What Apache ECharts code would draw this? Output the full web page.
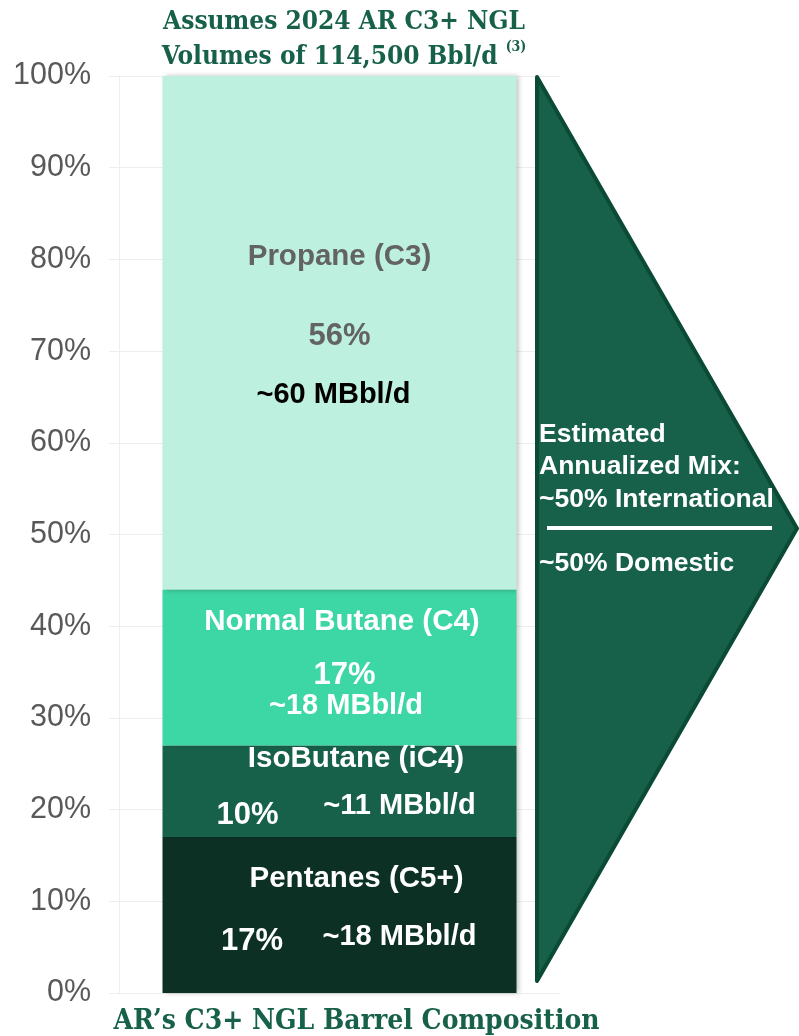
<!DOCTYPE html>
<html><head><meta charset="utf-8">
<script src="https://cdn.jsdelivr.net/npm/echarts@6/dist/echarts.min.js"></script>
<style>html,body{margin:0;padding:0;background:#fff}#c{width:799px;height:1036px}</style>
</head><body><div id="c"></div>
<script>
// ---- data ----
const categories = ["AR\u2019s C3+ NGL Barrel Composition"];
const segmentNames = ["Pentanes (C5+)", "IsoButane (iC4)", "Normal Butane (C4)", "Propane (C3)"];
const segmentShares = [17, 10, 17, 56];           // % of barrel (stacked)
const shareLabels = ["17%", "10%", "17%", "56%"];
const volumeLabels = ["~18 MBbl/d", "~11 MBbl/d", "~18 MBbl/d", "~60 MBbl/d"];
const yTicks = [0, 10, 20, 30, 40, 50, 60, 70, 80, 90, 100];
const titleLines = ["Assumes 2024 AR C3+ NGL", "Volumes of 114,500 Bbl/d"];
const titleNote = "(3)";
const mixLines = ["Estimated", "Annualized Mix:", "~50% International", "~50% Domestic"];

// ---- styles / layout (not data) ----
const segColors = ["#0d3024", "#17604a", "#3dd6a5", "#bdf0df"];
const green = "#17604a";
const SANS = "Liberation Sans, Arial, sans-serif";
const SERIF = "DejaVu Serif Condensed, DejaVu Serif, serif";
const TEXT_DY = 2.5;
// label offsets relative to [bar centre x, segment centre y] : [dx, dy]
const labelLayout = [
  { name: [17, -39], share: [-87.5, 24], vol: [60, 19], nameColor: "#fff", shareColor: "#fff", volColor: "#fff" },
  { name: [16.5, -34.5], share: [-92, 21.5], vol: [60, 12.5], nameColor: "#fff", shareColor: "#fff", volColor: "#fff" },
  { name: [2.5, -48], share: [5, 5.5], vol: [6.5, 36.5], nameColor: "#fff", shareColor: "#fff", volColor: "#fff" },
  { name: [0, -78.5], share: [0, 1], vol: [-6, 60], nameColor: "#636363", shareColor: "#636363", volColor: "#000" }
];

const chart = echarts.init(document.getElementById('c'), null, { renderer: 'canvas' });

const series = segmentNames.map((n, i) => ({
  name: n, type: 'bar', stack: 'ngl', barWidth: 354,
  data: [segmentShares[i]],
  itemStyle: { color: segColors[i], shadowBlur: 5, shadowOffsetX: 2, shadowColor: 'rgba(0,0,0,0.25)' },
  emphasis: { disabled: true }, animation: false
}));

const option = {
  animation: false,
  grid: { left: 119, right: 239, top: 76, bottom: 42 },
  title: {
    text: '{t|' + titleLines[0] + '}\n{t|' + titleLines[1] + ' }{s|' + titleNote + '}',
    left: 339, top: 0, textAlign: 'center',
    textStyle: { rich: {
      t: { fontFamily: SERIF, fontWeight: 'bold', fontSize: 26, color: green, lineHeight: 35 },
      s: { fontFamily: SERIF, fontWeight: 'bold', fontSize: 14, color: green, verticalAlign: 'top', lineHeight: 35, padding: [0, 0, 12, 0] }
    } }
  },
  xAxis: {
    type: 'category', data: categories,
    axisLine: { show: true, lineStyle: { color: '#eeeeee', width: 1 } },
    axisTick: { show: false },
    axisLabel: { interval: 0, margin: 15, fontFamily: SERIF, fontWeight: 'bold', fontSize: 28, color: green, padding: [0, 0, 0, 34] }
  },
  yAxis: {
    type: 'value', min: 0, max: 100, interval: 10,
    axisLine: { show: true, lineStyle: { color: '#eeeeee' } },
    axisTick: { show: true, length: 10, lineStyle: { color: '#eeeeee' } },
    splitLine: { show: true, lineStyle: { color: '#eeeeee', width: 1 } },
    axisLabel: { margin: 28, fontFamily: SANS, fontSize: 30.5, color: '#595959', formatter: v => yTicks.includes(v) ? v + '%' : '' }
  },
  series: series
};
chart.setOption(option);

// annotations positioned from the data via the chart's scales
const graphics = [];
let cum = 0;
segmentShares.forEach((v, i) => {
  const pBot = chart.convertToPixel({ gridIndex: 0 }, [0, cum]);
  const pTop = chart.convertToPixel({ gridIndex: 0 }, [0, cum + v]);
  cum += v;
  const barX = pBot[0];
  const cy = (pBot[1] + pTop[1]) / 2;
  const L = labelLayout[i];
  const mk = (txt, off, color, size) => ({
    type: 'text', x: barX + off[0], y: cy + off[1] + TEXT_DY, silent: true, z: 100,
    style: { text: txt, fill: color, font: 'bold ' + size + 'px ' + SANS, align: 'center', verticalAlign: 'middle' }
  });
  graphics.push(mk(segmentNames[i], L.name, L.nameColor, 29.5));
  graphics.push(mk(shareLabels[i], L.share, L.shareColor, 31));
  graphics.push(mk(volumeLabels[i], L.vol, L.volColor, 29));
});

// arrow (chevron) to the right of the bar
const yTop = chart.convertToPixel({ gridIndex: 0 }, [0, 100])[1];
const yBot = chart.convertToPixel({ gridIndex: 0 }, [0, 0])[1];
graphics.push({
  type: 'polygon', silent: true,
  shape: { points: [[537, yTop + 1], [797, (yTop + yBot - 12) / 2], [537, yBot - 12]] },
  style: { fill: green, stroke: '#0b4a35', lineWidth: 4, lineJoin: 'round' }
});
const mixY = [433, 465, 498, 562];
mixLines.forEach((t, i) => graphics.push({
  type: 'text', x: 539, y: mixY[i] + 2, silent: true, z: 100,
  style: { text: t, fill: '#fff', font: 'bold 26.5px ' + SANS, align: 'left', verticalAlign: 'middle' }
}));
graphics.push({ type: 'line', silent: true, z: 100, shape: { x1: 547, y1: 528, x2: 772, y2: 528 }, style: { stroke: '#fff', lineWidth: 4 } });

chart.setOption({ graphic: graphics });
</script></body></html>
